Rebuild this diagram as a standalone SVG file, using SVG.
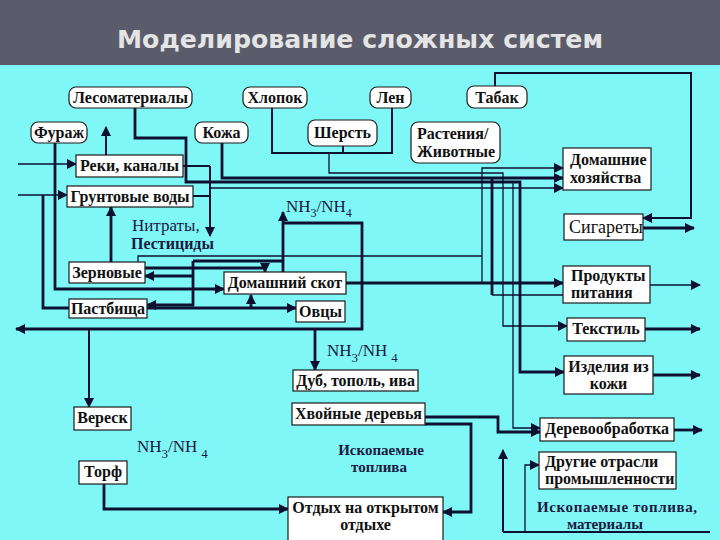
<svg xmlns="http://www.w3.org/2000/svg" width="720" height="540" viewBox="0 0 720 540">
<style>
.bg{fill:#80f7f7}
.hd{fill:#5a5c6b}
.title{font-family:"DejaVu Sans",Verdana,sans-serif;font-weight:bold;font-size:24px;fill:#e4e4e4}
.box{fill:#ffffff;stroke:#1a1a1a;stroke-width:1.2}
.n{font-family:"Liberation Serif","Times New Roman",serif;font-weight:bold;font-size:16px;fill:#111}
.c{text-anchor:middle}
.lbl{font-family:"Liberation Serif","Times New Roman",serif;font-size:17px;fill:#1a1a40}
.lb{font-family:"Liberation Serif","Times New Roman",serif;font-weight:bold;font-size:15px;fill:#1a1a40}
.k{fill:none;stroke:#0d1030;stroke-width:2.8}
.m{fill:none;stroke:#0d1030;stroke-width:2}
.t{fill:none;stroke:#0d1030;stroke-width:1.3}
.ar{marker-end:url(#a)}
</style>
<defs>
<marker id="a" viewBox="0 0 10 10" refX="9" refY="5" markerWidth="10" markerHeight="10" markerUnits="userSpaceOnUse" orient="auto">
<path d="M0,0 L10,5 L0,10 z" fill="#0d1030"/>
</marker>
</defs>
<rect class="bg" x="0" y="0" width="720" height="540"/>
<rect class="hd" x="0" y="0" width="720" height="65"/>
<text class="title" x="360" y="48" text-anchor="middle" textLength="486" lengthAdjust="spacingAndGlyphs">Моделирование сложных систем</text>

<g id="connectors">
<!-- inputs left -->
<polyline class="t ar" points="18,164 76,164"/>
<polyline class="t ar" points="18,195 67,195"/>
<polyline class="m ar" points="106,155 106,127"/>
<!-- Лесоматериалы -->
<polyline class="k ar" points="135,108 135,138 186,138 186,182 520,182 520,372 564,372"/>
<!-- Кожа -->
<polyline class="k ar" points="222,143 222,178 563,178"/>
<polyline class="k" points="492,178 492,295"/>
<polyline class="t" points="492,295 563,295"/>
<!-- Реки / Грунтовые -->
<polyline class="m" points="183,166 210,166"/>
<polyline class="m" points="193,196 210,196"/>
<polyline class="m ar" points="210,166 210,236"/>
<polyline class="t ar" points="210,188 563,188"/>
<!-- Хлопок / Шерсть / Лен -->
<polyline class="m" points="272,108 272,153 392,153 392,108"/>
<polyline class="m" points="343,146 343,153"/>
<polyline class="t ar" points="329,153 329,173 503,173 503,326 567,326"/>
<polyline class="t ar" points="482,283 482,168 563,168"/>
<polyline class="t ar" points="513,182 513,428 540,428"/>
<!-- Зерновые -->
<polyline class="t" points="138,262 138,256 482,256"/>
<polyline class="k ar" points="145,268 265,268 265,272"/>
<polyline class="k" points="193,261 283,261"/>
<polyline class="k ar" points="193,261 193,305 147,305"/>
<polyline class="k ar" points="193,276 145,276"/>
<polyline class="k ar" points="111,262 111,207"/>
<!-- Домашний скот -->
<polyline class="k ar" points="283,272 283,212"/>
<polyline class="k ar" points="283,223 362,223 362,329 16,329"/>
<polyline class="k ar" points="315,329 315,370"/>
<polyline class="m ar" points="89,329 89,407"/>
<polyline class="k ar" points="346,283 563,283"/>
<!-- Фураж -->
<polyline class="k ar" points="55,143 55,289 224,289"/>
<!-- Пастбища -->
<polyline class="k" points="69,308 43,308 43,195"/>
<polyline class="k ar" points="147,308 296,308"/>
<polyline class="k ar" points="251,308 251,295"/>
<!-- Хвойные -->
<polyline class="k ar" points="425,417 498,417 498,432 540,432"/>
<polyline class="k ar" points="425,424 471,424 471,512 443,512"/>
<!-- Торф -->
<polyline class="k ar" points="104,484 104,509 288,509"/>
<!-- bottom right -->
<polyline class="m ar" points="503,532 503,450"/>
<polyline class="m" points="503,532 710,532"/>
<polyline class="t ar" points="525,532 525,465 539,465"/>
<!-- Табак / Сигареты -->
<polyline class="m ar" points="495,86 495,73 691,73 691,218 643,218"/>
<polyline class="k ar" points="643,228 694,228"/>
<!-- outputs -->
<polyline class="t ar" points="650,285 700,285"/>
<polyline class="k ar" points="645,329 700,329"/>
<polyline class="k ar" points="653,375 700,375"/>
<polyline class="k ar" points="674,430 702,430"/>
</g>

<g id="lesomaterialy"><rect class="box" x="69" y="87" width="123" height="21" rx="7"/><text class="n c" x="130.5" y="103">Лесоматериалы</text></g>
<g id="hlopok"><rect class="box" x="243" y="87" width="64" height="21" rx="7"/><text class="n c" x="275" y="103">Хлопок</text></g>
<g id="len"><rect class="box" x="370" y="87" width="41" height="21" rx="7"/><text class="n c" x="390.5" y="103">Лен</text></g>
<g id="tabak"><rect class="box" x="467" y="86" width="60" height="22" rx="7"/><text class="n c" x="497" y="103">Табак</text></g>
<g id="furazh"><rect class="box" x="31" y="122" width="56" height="21" rx="7"/><text class="n c" x="59" y="138">Фураж</text></g>
<g id="kozha"><rect class="box" x="195" y="122" width="53" height="21" rx="7"/><text class="n c" x="221.5" y="138">Кожа</text></g>
<g id="sherst"><rect class="box" x="308" y="120" width="69" height="26" rx="7"/><text class="n c" x="342.5" y="138">Шерсть</text></g>
<g id="rastenia"><rect class="box" x="411" y="122" width="89" height="41" rx="7"/><text class="n" x="417" y="139">Растения/</text><text class="n" x="417" y="157">Животные</text></g>
<g id="reki"><rect class="box" x="76" y="155" width="107" height="22"/><text class="n c" x="129.5" y="171">Реки, каналы</text></g>
<g id="grunt"><rect class="box" x="67" y="186" width="126" height="21"/><text class="n c" x="130" y="202">Грунтовые воды</text></g>
<g id="dom_hoz"><rect class="box" x="563" y="148" width="88" height="42"/><text class="n" x="570" y="165">Домашние</text><text class="n" x="570" y="183">хозяйства</text></g>
<g id="sigarety"><rect class="box" x="564" y="214" width="79" height="26"/><text class="lbl" x="569" y="233" style="font-size:18px;fill:#111">Сигареты</text></g>
<g id="zernovye"><rect class="box" x="69" y="262" width="76" height="21"/><text class="n c" x="107" y="278">Зерновые</text></g>
<g id="dom_skot"><rect class="box" x="224" y="272" width="122" height="22"/><text class="n c" x="285" y="288">Домашний скот</text></g>
<g id="pastbisha"><rect class="box" x="69" y="299" width="78" height="19"/><text class="n c" x="108" y="314">Пастбища</text></g>
<g id="ovcy"><rect class="box" x="296" y="301" width="49" height="21"/><text class="n c" x="320.5" y="317">Овцы</text></g>
<g id="produkty"><rect class="box" x="563" y="266" width="87" height="37"/><text class="n" x="571" y="281">Продукты</text><text class="n" x="571" y="298">питания</text></g>
<g id="tekstil"><rect class="box" x="567" y="318" width="78" height="23"/><text class="n c" x="606" y="334">Текстиль</text></g>
<g id="izdelia"><rect class="box" x="564" y="356" width="89" height="38"/><text class="n c" x="608.5" y="372">Изделия из</text><text class="n c" x="608.5" y="389">кожи</text></g>
<g id="dub"><rect class="box" x="293" y="370" width="125" height="21"/><text class="n c" x="355.5" y="386">Дуб, тополь, ива</text></g>
<g id="hvoinye"><rect class="box" x="292" y="403" width="133" height="22"/><text class="n c" x="358.5" y="419">Хвойные деревья</text></g>
<g id="veresk"><rect class="box" x="74" y="407" width="57" height="23"/><text class="n c" x="102.5" y="423">Вереск</text></g>
<g id="torf"><rect class="box" x="79" y="461" width="48" height="23"/><text class="n c" x="103" y="477">Торф</text></g>
<g id="otdyh"><rect class="box" x="288" y="497" width="155" height="50"/><text class="n c" x="365.5" y="513">Отдых на открытом</text><text class="n c" x="365.5" y="530">отдыхе</text></g>
<g id="derevo"><rect class="box" x="540" y="418" width="134" height="23"/><text class="n c" x="607" y="434">Деревообработка</text></g>
<g id="drugie"><rect class="box" x="539" y="452" width="137" height="37"/><text class="n" x="545" y="467">Другие отрасли</text><text class="n" x="545" y="484">промышленности</text></g>

<g id="labels">
<text class="lbl" x="132" y="231">Нитраты,</text>
<text class="lb" x="131" y="249" style="font-size:16px">Пестициды</text>
<text class="lbl" x="286" y="212">NH<tspan dy="5" font-size="12">3</tspan><tspan dy="-5">/NH</tspan><tspan dy="5" font-size="12">4</tspan></text>
<text class="lbl" x="327" y="356">NH<tspan dy="6" font-size="13">3</tspan><tspan dy="-6">/NH</tspan><tspan dy="6" dx="4" font-size="13">4</tspan></text>
<text class="lbl" x="137" y="452">NH<tspan dy="6" font-size="13">3</tspan><tspan dy="-6">/NH</tspan><tspan dy="6" dx="4" font-size="13">4</tspan></text>
<text class="lb c" x="381" y="455">Ископаемые</text>
<text class="lb c" x="379" y="472">топлива</text>
<text class="lb c" x="617" y="512" textLength="160">Ископаемые топлива,</text>
<text class="lb c" x="605" y="529">материалы</text>
</g>
</svg>
